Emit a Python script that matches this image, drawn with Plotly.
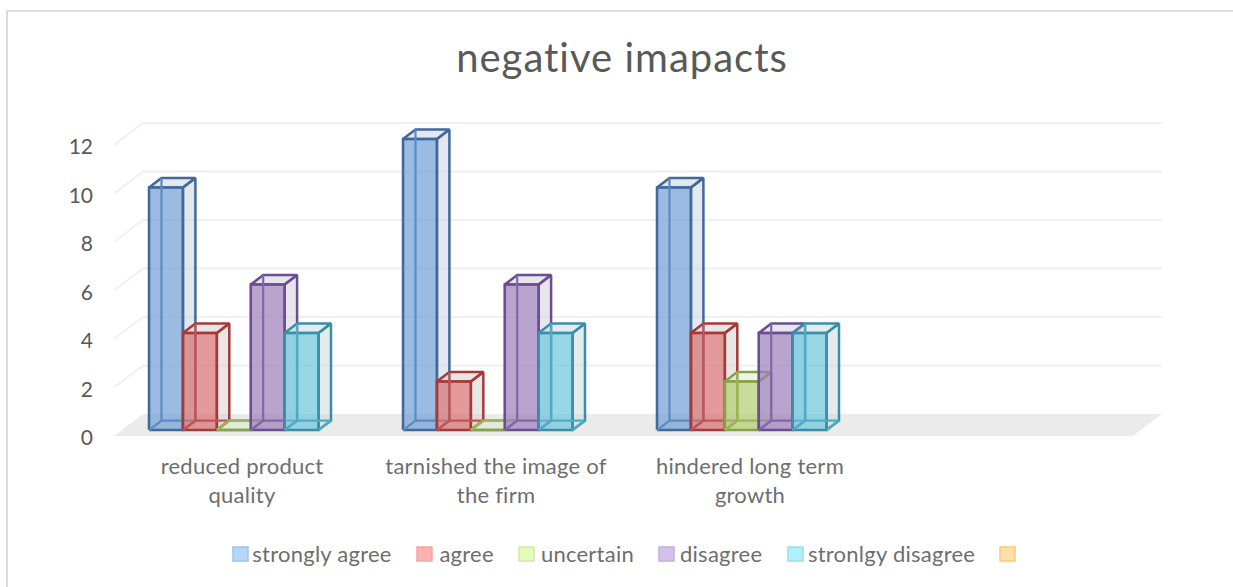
import plotly.graph_objects as go

# ---- data ----
title_text = "negative imapacts"
categories = ["reduced product<br>quality", "tarnished the image of<br>the firm", "hindered long term<br>growth", ""]
series_names = ["strongly agree", "agree", "uncertain", "disagree", "stronlgy disagree", ""]
strongly_agree = [10, 12, 10, None]
agree = [4, 2, 4, None]
uncertain = [0, 0, 2, None]
disagree = [6, 6, 4, None]
stronlgy_disagree = [4, 4, 4, None]
unnamed = [None, None, None, None]
series_values = [strongly_agree, agree, uncertain, disagree, stronlgy_disagree, unnamed]
y_ticks = [0, 2, 4, 6, 8, 10, 12]

# ---- styles ----
front_fill = ["rgba(112,158,213,0.70)", "rgba(216,111,111,0.70)", "rgba(178,205,112,0.70)", "rgba(155,125,186,0.70)", "rgba(108,198,219,0.70)", "#ffe0a5"]
side_fill = ["rgba(200,210,225,0.50)", "rgba(215,205,205,0.50)", "rgba(220,230,205,0.45)", "rgba(210,205,220,0.50)", "rgba(200,215,220,0.50)", "#fff"]
edge = ["#41699c", "#a23b3a", "#86a447", "#6a4d92", "#3c8ea8", "#f0b060"]
back_edge = ["#5b8bc5", "#bd5553", "#98b954", "#8466a8", "#4bacc6", "#f79646"]
swatch_fill = ["#b4d5fc", "#ffb0b0", "#e4fbba", "#d5c0f0", "#aef0fb", "#ffe0a5"]
swatch_line = ["#a0c2ee", "#f3a5a5", "#d3e8ae", "#c3b0dd", "#9fdcec", "#fbc77e"]
legend_swatch_x = [233, 417, 519, 659, 788, 1000]
legend_text_x = [252, 438, 540, 679, 808, 1018]

W, H = 1233, 587
PLOT_L, PLOT_R, PLOT_T, PLOT_B = 114, 1162, 115, 436
CAT_PX = 254.0
FLOOR_PX = 1019
VAL_PX = 24.25
DEPTH_DX, DEPTH_DY = 29 / CAT_PX, 22 / VAL_PX
D0, D1 = 0.27, 0.70
BAR_W = 33.9 / CAT_PX
LEFT_PAD = 27.2 / CAT_PX

def pt(x, v, d):
    return x + d * DEPTH_DX, v + d * DEPTH_DY

def poly(points):
    xs = [p[0] for p in points] + [points[0][0], None]
    ys = [p[1] for p in points] + [points[0][1], None]
    return xs, ys

def faces_trace(polys, fill, color, width):
    xs, ys = [], []
    for p in polys:
        a, b = poly(p)
        xs += a
        ys += b
    return go.Scatter(x=xs, y=ys, mode="lines", fill="toself", fillcolor=fill,
                      line=dict(color=color, width=width), hoverinfo="skip", showlegend=False)

def lines_trace(segments, color, width):
    xs, ys = [], []
    for a, b in segments:
        xs += [a[0], b[0], None]
        ys += [a[1], b[1], None]
    return go.Scatter(x=xs, y=ys, mode="lines", line=dict(color=color, width=width),
                      hoverinfo="skip", showlegend=False)

fig = go.Figure()
x_lo = -0.5
x_hi = -0.5 + (PLOT_R - PLOT_L) / CAT_PX
x_fr = -0.5 + FLOOR_PX / CAT_PX

# floor
fig.add_trace(faces_trace([[pt(x_lo, 0, 0), pt(x_lo, 0, 1), pt(x_fr, 0, 1), pt(x_fr, 0, 0)]],
                          "#ebebeb", "rgba(0,0,0,0)", 0))
# gridlines along side and back wall
for t in y_ticks[1:]:
    a, b, c = pt(x_lo, t, 0), pt(x_lo, t, 1), pt(x_fr, t, 1)
    fig.add_trace(go.Scatter(x=[a[0], b[0], c[0]], y=[a[1], b[1], c[1]], mode="lines",
                             line=dict(color="#f0f0f0", width=2), hoverinfo="skip", showlegend=False))

# bars, painted back to front
for s, values in enumerate(series_values):
    side, front, inner = [], [], []
    for i, v in enumerate(values):
        if v is None:
            continue
        x0 = i - 0.5 + LEFT_PAD + s * BAR_W
        x1 = x0 + BAR_W
        side.append([pt(x1, 0, D0), pt(x1, 0, D1), pt(x1, v, D1), pt(x1, v, D0)])
        side.append([pt(x0, v, D0), pt(x0, v, D1), pt(x1, v, D1), pt(x1, v, D0)])
        front.append([pt(x0, 0, D0), pt(x0, v, D0), pt(x1, v, D0), pt(x1, 0, D0)])
        inner.append((pt(x0, 0, D1), pt(x0, v, D1)))
        inner.append((pt(x0, 0, D1), pt(x1, 0, D1)))
        inner.append((pt(x0, 0, D0), pt(x0, 0, D1)))
        inner.append((pt(x1, 0, D0), pt(x1, 0, D1)))
    if not front:
        continue
    fig.add_trace(faces_trace(side, side_fill[s], edge[s], 2.5))
    fig.add_trace(faces_trace(front, front_fill[s], edge[s], 2.6))
    fig.add_trace(lines_trace(inner, back_edge[s], 2.2))

# legend
def px_x(p):
    return (p - PLOT_L) / (PLOT_R - PLOT_L)

def px_y(p):
    return (PLOT_B - p) / (PLOT_B - PLOT_T)

shapes = []
annotations = []
for s, name in enumerate(series_names):
    sx = legend_swatch_x[s]
    shapes.append(dict(type="rect", xref="paper", yref="paper",
                       x0=px_x(sx), x1=px_x(sx + 15), y0=px_y(561), y1=px_y(547),
                       fillcolor=swatch_fill[s], line=dict(color=swatch_line[s], width=1.5)))
    if name:
        annotations.append(dict(text=name, xref="paper", yref="paper", showarrow=False,
                                x=px_x(legend_text_x[s]), y=px_y(553), xanchor="left", yanchor="middle",
                                font=dict(family="Lato", size=22, color="#6e6e6e")))
# chart border
shapes.append(dict(type="path", xref="paper", yref="paper", layer="below",
                   path="M %f,%f L %f,%f L %f,%f" % (px_x(7), px_y(587), px_x(7), px_y(11), px_x(1233), px_y(11)),
                   line=dict(color="#dcdcdc", width=2)))

fig.update_layout(
    width=W, height=H, autosize=False,
    margin=dict(l=PLOT_L, r=W - PLOT_R, t=PLOT_T, b=H - PLOT_B, pad=0),
    paper_bgcolor="#ffffff", plot_bgcolor="rgba(0,0,0,0)",
    font=dict(family="Lato", color="#595959"),
    showlegend=False,
    title=dict(text=title_text, x=622 / W, xanchor="center", y=1 - 58 / H, yanchor="middle",
               font=dict(family="Lato", size=40, color="#595959")),
    xaxis=dict(range=[x_lo, x_hi], tickmode="array", tickvals=list(range(len(categories))), ticktext=categories,
               showgrid=False, zeroline=False, showline=False, ticks="", ticklabelstandoff=15, ticklabelshift=1,
               tickfont=dict(family="Lato", size=22, color="#6e6e6e")),
    yaxis=dict(range=[0, (PLOT_B - PLOT_T) / VAL_PX], tickmode="array", tickvals=y_ticks,
               showgrid=False, zeroline=False, showline=False, ticks="", ticklabelstandoff=20, ticklabelshift=2,
               tickfont=dict(family="Lato", size=21, color="#595959")),
    shapes=shapes, annotations=annotations,
)
css = (".gtitle{letter-spacing:1px}"
       ".xtick text,.annotation-text{letter-spacing:.25px}")
fig.write_html("out.html", config={"displayModeBar": False},
               post_script="document.body.style.margin='0';"
                           "var st=document.createElement('style');st.textContent='%s';"
                           "document.head.appendChild(st);" % css)
